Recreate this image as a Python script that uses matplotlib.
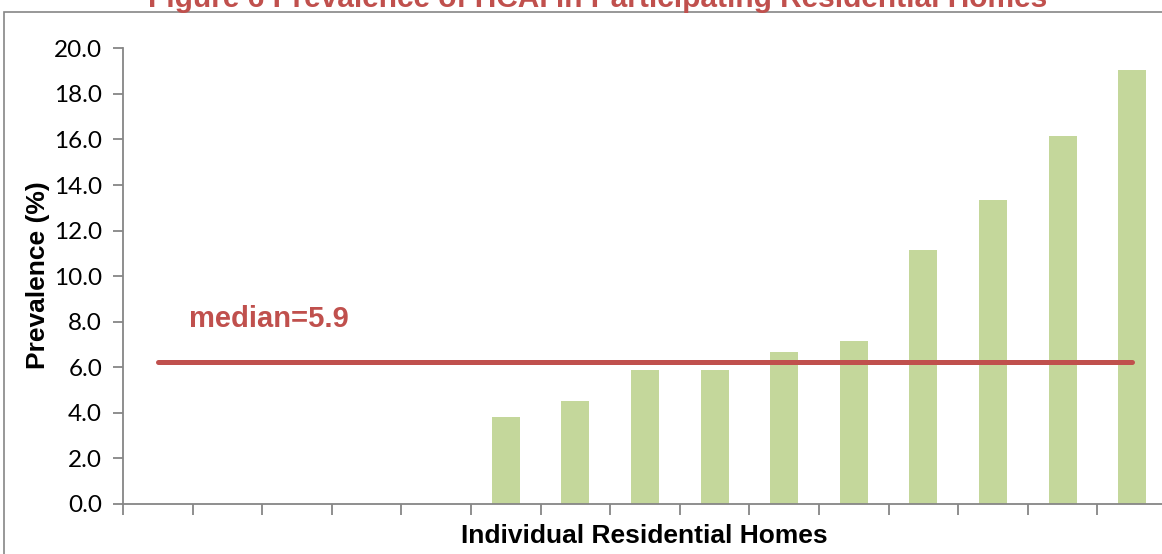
import matplotlib
matplotlib.use("Agg")
import matplotlib.pyplot as plt
from matplotlib.patches import Rectangle

# Valores (prevalência por residência, ordenada)
homes = list(range(15))
prevalence = [0, 0, 0, 0, 0, 3.83, 4.53, 5.88, 5.88, 6.67, 7.15, 11.15, 13.34, 16.14, 19.06]
median_line = 6.22
median_label = "median=5.9"
yticks = [0, 2, 4, 6, 8, 10, 12, 14, 16, 18, 20]

title = "Figure 6 Prevalence of HCAI in Participating Residential Homes"
xlabel = "Individual Residential Homes"
ylabel = "Prevalence (%)"

red = "#C0504D"
green = "#C4D79B"
grey = "#868686"

W, H = 1162, 554
fig = plt.figure(figsize=(W / 100, H / 100), dpi=100)

# moldura externa do gráfico (cortada na imagem original)
fig.patches.append(Rectangle((4 / W, -0.1), 1.2, 1.1 - 11.5 / H, transform=fig.transFigure,
                             fill=False, edgecolor=grey, linewidth=1.2))

# título parcialmente cortado no topo, como no original
fig.text(598 / W, 1 - 7 / H, title, ha="center", va="baseline", fontsize=21.5,
         fontweight="bold", color=red, family="Liberation Sans")

left, right = 123 / W, 1167 / W
bottom, top = (H - 504) / H, (H - 48.3) / H
ax = fig.add_axes([left, bottom, right - left, top - bottom])
ax.patch.set_alpha(0)

ax.bar(homes, prevalence, width=0.4, color=green, zorder=2)
ax.plot([homes[0], homes[-1]], [median_line, median_line], color=red, linewidth=3.6,
        solid_capstyle="round", zorder=3)
ax.text(0.45, median_line + 1.55, median_label, color=red, fontsize=21, fontweight="bold",
        family="Liberation Sans", va="baseline")

ax.set_xlim(-0.5, 14.5)
ax.set_ylim(0, 20)
ax.set_yticks(yticks)
ax.set_yticklabels([f"{v:.1f}" for v in yticks], family="Lato", fontsize=17.5)
ax.set_xticks([i - 0.5 for i in homes] + [14.5])
ax.set_xticklabels([])

for s in ["top", "right"]:
    ax.spines[s].set_visible(False)
for s in ["left", "bottom"]:
    ax.spines[s].set_color(grey)
    ax.spines[s].set_linewidth(1.3)
ax.tick_params(axis="y", direction="out", length=7, width=1.3, color=grey, pad=8)
ax.tick_params(axis="x", direction="out", length=8, width=1.3, color=grey)

ax.set_xlabel(xlabel, fontsize=19, fontweight="bold", family="Liberation Sans")
fig.text(38 / W, (H - 275) / H, ylabel, rotation=90, ha="center", va="center",
         fontsize=19, fontweight="bold", family="Liberation Sans")
ax.xaxis.set_label_coords((644 - 123) / (1167 - 123), -(536 - 504) / (504 - 48.3))
ax.xaxis.label.set_va("center")

fig.savefig("out.png", dpi=100)
